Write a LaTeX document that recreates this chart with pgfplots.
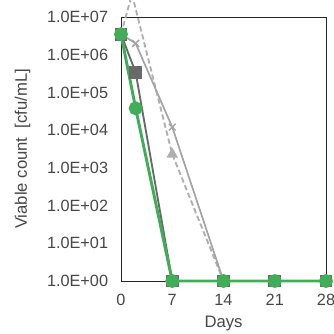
\documentclass[border=0pt]{standalone}
\usepackage{pgfplots}
\pgfplotsset{compat=1.18}
\usepackage{fontspec}
\setmainfont{Liberation Sans}
\definecolor{cgreen}{RGB}{64,173,88}
\definecolor{cdark}{RGB}{105,105,105}
\definecolor{clight}{RGB}{165,165,165}
\definecolor{cdash}{RGB}{175,175,175}
\definecolor{ctext}{RGB}{70,70,70}
\begin{document}
\begin{tikzpicture}
\useasboundingbox (-90.75pt,-39.75pt) rectangle (159.75pt,210.75pt);
\begin{axis}[
  at={(0,0)}, anchor=south west,
  scale only axis, width=153.75pt, height=198pt,
  xmin=0, xmax=28, ymode=log, ymin=1, ymax=1e7,
  xtick={0,7,14,21,28}, xticklabels={0,7,14,21,28},
  ytick={1,10,100,1000,10000,100000,1000000,10000000},
  yticklabels={1.0E+00,1.0E+01,1.0E+02,1.0E+03,1.0E+04,1.0E+05,1.0E+06,1.0E+07},
  major tick length=0, minor tick num=0,
  log basis y=10,
  clip=false,
  axis line style={black!85, line width=0.7pt},
  tick label style={font=\fontsize{12.2}{14}\selectfont, text=ctext},
  yticklabel style={inner sep=0pt, xshift=-9.5pt},
  xticklabel style={inner sep=0pt, yshift=-9.5pt},
  xlabel={Days}, ylabel={Viable count\hspace{0.55em}[cfu/mL]},
  label style={font=\fontsize{12.5}{14}\selectfont, text=ctext},
  xlabel style={at={(axis description cs:0.5,-0.1326)}, anchor=north, inner sep=0pt},
  ylabel style={at={(axis description cs:-0.459,0.5)}, anchor=base, inner sep=0pt},
]
% light gray dashed with triangles
\addplot[color=cdash, line width=1.4pt, dash pattern=on 4pt off 2.2pt,
  mark=triangle*, mark size=3.6pt, mark options={solid, fill=cdash, draw=cdash}]
  coordinates {(0,3.5e6) (1.5,4e7) (7,2.3e3) (14,1) (21,1) (28,1)};
% light gray solid with x
\addplot[color=clight, line width=1.3pt,
  mark=x, mark size=3.6pt, mark options={solid, line width=1.1pt}]
  coordinates {(0,3.5e6) (2,2e6) (7,1.2e4) (14,1) (21,1) (28,1)};
% dark gray with squares
\addplot[color=cdark, line width=1.4pt,
  mark=square*, mark size=4.1pt, mark options={fill=cdark, draw=cdark}]
  coordinates {(0,3.5e6) (2,3.4e5) (7,1) (14,1) (21,1) (28,1)};
% green with circles
\addplot[color=cgreen, line width=2.2pt,
  mark=*, mark size=4.1pt, mark options={fill=cgreen, draw=cgreen}]
  coordinates {(0,3.5e6) (2,3.8e4) (7,1) (14,1) (21,1) (28,1)};
\end{axis}
\end{tikzpicture}
\end{document}
